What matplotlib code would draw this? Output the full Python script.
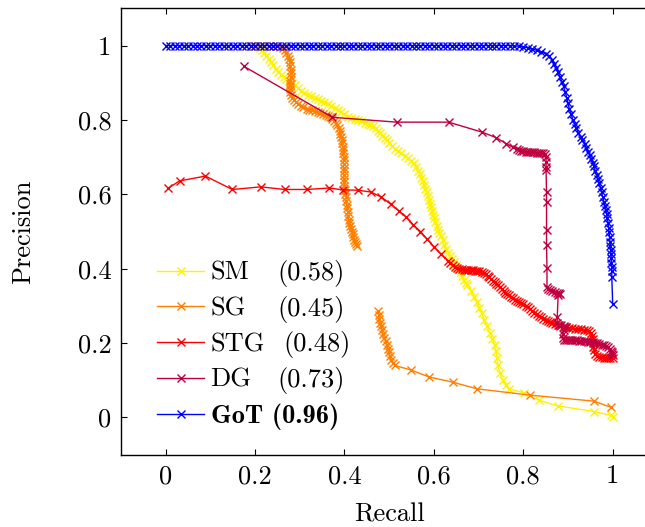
import matplotlib
matplotlib.use("Agg")
import matplotlib.pyplot as plt
import numpy as np
from matplotlib.transforms import IdentityTransform

plt.rcParams['font.family'] = 'cmr10'
plt.rcParams['axes.formatter.use_mathtext'] = True
plt.rcParams['mathtext.fontset'] = 'cm'

############   DATA   ######################################
sm_recall = [0.19, 0.198, 0.205, 0.21, 0.215, 0.22, 0.225, 0.23, 0.235, 0.24, 0.246, 0.252,
             0.258, 0.264, 0.27, 0.276, 0.282, 0.289, 0.296, 0.303, 0.31, 0.318, 0.325, 0.333,
             0.34, 0.348, 0.355, 0.363, 0.37, 0.378, 0.385, 0.392, 0.4, 0.408, 0.415, 0.423,
             0.43, 0.438, 0.445, 0.452, 0.458, 0.464, 0.47, 0.475, 0.48, 0.485, 0.49, 0.495,
             0.5, 0.506, 0.512, 0.52, 0.527, 0.535, 0.542, 0.549, 0.555, 0.56, 0.565, 0.569,
             0.572, 0.575, 0.578, 0.581, 0.584, 0.587, 0.589, 0.592, 0.594, 0.596, 0.598, 0.6,
             0.603, 0.606, 0.609, 0.612, 0.616, 0.62, 0.623, 0.627, 0.631, 0.635, 0.64, 0.645,
             0.65, 0.655, 0.66, 0.664, 0.668, 0.672, 0.675, 0.683, 0.69, 0.696, 0.702, 0.707,
             0.713, 0.719, 0.725, 0.731, 0.736, 0.739, 0.741, 0.743, 0.748, 0.754, 0.761, 0.768,
             0.802, 0.836, 0.878, 0.959, 0.996, 1.0]
sm_precision = [1.0, 1.0, 0.998, 0.993, 0.987, 0.98, 0.973, 0.965, 0.956, 0.947, 0.938, 0.93,
                0.922, 0.916, 0.91, 0.905, 0.9, 0.893, 0.886, 0.879, 0.873, 0.868, 0.863, 0.859,
                0.855, 0.851, 0.847, 0.843, 0.838, 0.833, 0.828, 0.822, 0.815, 0.809, 0.805, 0.802,
                0.8, 0.797, 0.793, 0.79, 0.787, 0.783, 0.777, 0.771, 0.765, 0.758, 0.751, 0.745,
                0.738, 0.73, 0.723, 0.716, 0.71, 0.703, 0.697, 0.69, 0.683, 0.674, 0.664, 0.655,
                0.645, 0.635, 0.625, 0.615, 0.605, 0.595, 0.585, 0.575, 0.565, 0.555, 0.545, 0.535,
                0.525, 0.515, 0.505, 0.496, 0.487, 0.476, 0.465, 0.454, 0.443, 0.434, 0.425, 0.417,
                0.41, 0.4, 0.39, 0.38, 0.37, 0.362, 0.355, 0.34, 0.325, 0.31, 0.295, 0.28,
                0.262, 0.245, 0.228, 0.212, 0.195, 0.178, 0.16, 0.14, 0.12, 0.101, 0.087, 0.077,
                0.066, 0.046, 0.031, 0.016, 0.006, 0.002]

# SG has a gap between its two parts (nan breaks the line)
sg_recall = [0.19, 0.2, 0.21, 0.22, 0.23, 0.24, 0.25, 0.256, 0.262, 0.266, 0.27, 0.273, 0.275,
             0.277, 0.279, 0.28, 0.281, 0.28, 0.279, 0.278, 0.277, 0.277, 0.278, 0.28, 0.283,
             0.287, 0.292, 0.297, 0.302, 0.308, 0.315, 0.321, 0.328, 0.334, 0.34, 0.346, 0.352,
             0.358, 0.363, 0.368, 0.373, 0.377, 0.381, 0.384, 0.387, 0.389, 0.391, 0.393, 0.394,
             0.395, 0.396, 0.397, 0.397, 0.398, 0.398, 0.398, 0.398, 0.398, 0.398, 0.399, 0.399,
             0.4, 0.401, 0.402, 0.403, 0.404, 0.405, 0.406, 0.407, 0.408, 0.409, 0.41, 0.412,
             0.414, 0.416, 0.418, 0.42, 0.422, 0.424, 0.426, 0.428,
             np.nan,
             0.476, 0.477, 0.478, 0.48, 0.482, 0.484, 0.486, 0.489, 0.492, 0.495, 0.497, 0.499,
             0.501, 0.504, 0.508, 0.512, 0.548, 0.589, 0.642, 0.697, 0.816, 0.958, 0.997]
sg_precision = [1.0, 1.0, 1.0, 1.0, 1.0, 0.999, 0.998, 0.996, 0.992, 0.987, 0.98, 0.973, 0.965,
                0.955, 0.945, 0.935, 0.925, 0.915, 0.905, 0.897, 0.89, 0.882, 0.875, 0.867, 0.86,
                0.854, 0.848, 0.843, 0.838, 0.834, 0.83, 0.828, 0.826, 0.824, 0.822, 0.819, 0.816,
                0.813, 0.81, 0.807, 0.803, 0.798, 0.792, 0.785, 0.778, 0.77, 0.762, 0.753, 0.745,
                0.737, 0.728, 0.719, 0.71, 0.701, 0.692, 0.682, 0.672, 0.662, 0.652, 0.642, 0.632,
                0.622, 0.612, 0.602, 0.592, 0.582, 0.572, 0.562, 0.552, 0.542, 0.532, 0.523, 0.515,
                0.507, 0.5, 0.492, 0.485, 0.478, 0.472, 0.467, 0.462,
                np.nan,
                0.285, 0.275, 0.265, 0.255, 0.245, 0.235, 0.225, 0.215, 0.205, 0.195, 0.185, 0.175,
                0.165, 0.155, 0.146, 0.14, 0.128, 0.109, 0.095, 0.077, 0.06, 0.044, 0.027]

stg_recall = [0.005, 0.031, 0.089, 0.149, 0.213, 0.266, 0.316, 0.366, 0.396, 0.431, 0.459, 0.482,
              0.503, 0.521, 0.537, 0.554, 0.57, 0.585, 0.6, 0.615, 0.631, 0.637, 0.642, 0.647,
              0.652, 0.657, 0.662, 0.667, 0.672, 0.677, 0.682, 0.687, 0.692, 0.697, 0.702, 0.707,
              0.712, 0.716, 0.72, 0.724, 0.728, 0.732, 0.736, 0.74, 0.744, 0.748, 0.752, 0.756,
              0.76, 0.764, 0.768, 0.772, 0.777, 0.781, 0.786, 0.79, 0.795, 0.8, 0.805, 0.81,
              0.815, 0.82, 0.825, 0.83, 0.835, 0.84, 0.845, 0.85, 0.855, 0.86, 0.865, 0.871,
              0.877, 0.883, 0.89, 0.896, 0.903, 0.91, 0.916, 0.922, 0.929, 0.935, 0.942, 0.947,
              0.952, 0.954, 0.955, 0.956, 0.957, 0.958, 0.96, 0.965, 0.97, 0.975, 0.98, 0.985,
              0.99, 0.995, 1.0]
stg_precision = [0.616, 0.636, 0.649, 0.613, 0.62, 0.613, 0.613, 0.617, 0.612, 0.611, 0.606, 0.593,
                 0.574, 0.556, 0.54, 0.518, 0.5, 0.479, 0.459, 0.44, 0.422, 0.415, 0.41, 0.405,
                 0.402, 0.4, 0.398, 0.397, 0.397, 0.396, 0.396, 0.396, 0.395, 0.394, 0.393, 0.391,
                 0.388, 0.385, 0.381, 0.377, 0.373, 0.368, 0.364, 0.36, 0.355, 0.35, 0.345, 0.34,
                 0.336, 0.332, 0.328, 0.324, 0.32, 0.316, 0.313, 0.31, 0.307, 0.304, 0.3, 0.296,
                 0.291, 0.286, 0.281, 0.277, 0.273, 0.269, 0.266, 0.263, 0.26, 0.257, 0.254, 0.251,
                 0.248, 0.246, 0.244, 0.242, 0.241, 0.24, 0.239, 0.238, 0.237, 0.236, 0.235, 0.233,
                 0.228, 0.22, 0.21, 0.2, 0.19, 0.181, 0.172, 0.165, 0.163, 0.162, 0.161, 0.16,
                 0.16, 0.16, 0.159]

dg_recall = [0.175, 0.373, 0.517, 0.633, 0.708, 0.74, 0.762, 0.776, 0.785, 0.79, 0.795, 0.8,
             0.805, 0.81, 0.815, 0.82, 0.825, 0.83, 0.835, 0.84, 0.845, 0.849, 0.851, 0.851,
             0.851, 0.851, 0.852, 0.852, 0.852, 0.852, 0.853, 0.853, 0.855, 0.86, 0.865, 0.87,
             0.875, 0.88, 0.883, 0.878, 0.876, 0.876, 0.88, 0.885, 0.89, 0.895, 0.892, 0.889,
             0.888, 0.89, 0.895, 0.9, 0.905, 0.91, 0.915, 0.92, 0.925, 0.93, 0.935, 0.94,
             0.945, 0.95, 0.955, 0.96, 0.965, 0.97, 0.975, 0.98, 0.985, 0.99, 0.993, 0.996,
             0.998, 0.999, 1.0]
dg_precision = [0.944, 0.807, 0.794, 0.794, 0.767, 0.752, 0.736, 0.727, 0.721, 0.719, 0.717, 0.716,
                0.715, 0.714, 0.714, 0.713, 0.713, 0.712, 0.712, 0.711, 0.71, 0.709, 0.7, 0.688,
                0.674, 0.665, 0.607, 0.578, 0.504, 0.463, 0.402, 0.352, 0.345, 0.342, 0.34, 0.338,
                0.336, 0.334, 0.332, 0.328, 0.271, 0.254, 0.25, 0.248, 0.245, 0.242, 0.236, 0.225,
                0.215, 0.209, 0.208, 0.208, 0.208, 0.208, 0.207, 0.207, 0.206, 0.206, 0.205, 0.205,
                0.204, 0.203, 0.202, 0.201, 0.2, 0.198, 0.196, 0.194, 0.192, 0.189, 0.185, 0.18,
                0.176, 0.171, 0.167]

got_recall = [0.0, 0.01, 0.02, 0.03, 0.04, 0.05, 0.06, 0.07, 0.08, 0.09, 0.1, 0.11, 0.12, 0.13,
              0.14, 0.15, 0.16, 0.17, 0.18, 0.19, 0.2, 0.21, 0.22, 0.23, 0.24, 0.25, 0.26, 0.27,
              0.28, 0.29, 0.3, 0.31, 0.32, 0.33, 0.34, 0.35, 0.36, 0.37, 0.38, 0.39, 0.4, 0.41,
              0.42, 0.43, 0.44, 0.45, 0.46, 0.47, 0.48, 0.49, 0.5, 0.51, 0.52, 0.53, 0.54, 0.55,
              0.56, 0.57, 0.58, 0.59, 0.6, 0.61, 0.62, 0.63, 0.64, 0.65, 0.66, 0.67, 0.68, 0.69,
              0.7, 0.71, 0.72, 0.73, 0.74, 0.75, 0.76, 0.77, 0.78, 0.79, 0.8, 0.81, 0.82, 0.83,
              0.84, 0.85, 0.858, 0.864, 0.869, 0.874, 0.878, 0.882, 0.886, 0.89, 0.894, 0.897,
              0.9, 0.903, 0.907, 0.911, 0.915, 0.919, 0.923, 0.928, 0.932, 0.937, 0.941, 0.945,
              0.949, 0.952, 0.955, 0.958, 0.961, 0.964, 0.967, 0.97, 0.973, 0.975, 0.978, 0.98,
              0.983, 0.985, 0.987, 0.988, 0.99, 0.991, 0.992, 0.993, 0.994, 0.995, 0.996, 0.996,
              0.997, 0.997, 0.998, 0.998, 0.998, 1.0]
got_precision = [1.0, 1.0, 1.0, 1.0, 1.0, 1.0, 1.0, 1.0, 1.0, 1.0, 1.0, 1.0, 1.0, 1.0,
                 1.0, 1.0, 1.0, 1.0, 1.0, 1.0, 1.0, 1.0, 1.0, 1.0, 1.0, 1.0, 1.0, 1.0,
                 1.0, 1.0, 1.0, 1.0, 1.0, 1.0, 1.0, 1.0, 1.0, 1.0, 1.0, 1.0, 1.0, 1.0,
                 1.0, 1.0, 1.0, 1.0, 1.0, 1.0, 1.0, 1.0, 1.0, 1.0, 1.0, 1.0, 1.0, 1.0,
                 1.0, 1.0, 1.0, 1.0, 1.0, 1.0, 1.0, 1.0, 1.0, 1.0, 1.0, 1.0, 1.0, 1.0,
                 1.0, 1.0, 1.0, 1.0, 1.0, 1.0, 1.0, 1.0, 0.999, 0.998, 0.996, 0.994, 0.991, 0.987,
                 0.983, 0.978, 0.972, 0.962, 0.95, 0.94, 0.928, 0.916, 0.903, 0.89, 0.875, 0.86,
                 0.845, 0.83, 0.815, 0.8, 0.788, 0.777, 0.766, 0.755, 0.745, 0.735, 0.725, 0.715,
                 0.705, 0.695, 0.685, 0.675, 0.663, 0.652, 0.641, 0.63, 0.617, 0.605, 0.592, 0.58,
                 0.569, 0.558, 0.546, 0.535, 0.522, 0.51, 0.498, 0.486, 0.473, 0.46, 0.45, 0.44,
                 0.428, 0.415, 0.405, 0.395, 0.378, 0.305]

names = ["SM", "SG", "STG", "DG"]
scores = ["(0.58)", "(0.45)", "(0.48)", "(0.73)"]
got_label = "GoT (0.96)"

#--- plotting ---
fig = plt.figure(figsize=(6.45, 5.27), dpi=100)
ax = fig.add_axes([0.1876, 0.1372, 0.8316, 0.847])

style = dict(marker='x', markersize=5.8, markeredgewidth=1.0, linewidth=1.0)
ax.plot(sm_recall, sm_precision, color=(1.0, 0.95, 0.0), label=names[0], **style)
ax.plot(sg_recall, sg_precision, color=(1.0, 0.5, 0.0), label=names[1], **style)
ax.plot(stg_recall, stg_precision, color=(1.0, 0.0, 0.0), label=names[2], **style)
ax.plot(dg_recall, dg_precision, color=(0.75, 0.0, 0.25), label=names[3], **style)
ax.plot(got_recall, got_precision, color=(0.0, 0.0, 1.0), label=got_label, **style)

ax.set_xlim(-0.1, 1.1)
ax.set_ylim(-0.1, 1.1)
ticks = [0, 0.2, 0.4, 0.6, 0.8, 1]
ax.set_xticks(ticks)
ax.set_yticks(ticks)
ax.set_xticklabels([f"{t:g}" for t in ticks])
ax.set_yticklabels([f"{t:g}" for t in ticks])
ax.tick_params(direction='in', length=4.5, width=0.8, top=True, right=True,
               labelsize=19, pad=7)
for s in ax.spines.values():
    s.set_linewidth(1.0)

ax.set_xlabel("Recall", fontsize=19)
ax.set_ylabel("Precision", fontsize=19)
ax.xaxis.set_label_coords(0.5, -0.108)
ax.yaxis.set_label_coords(-0.160, 0.5)

leg = ax.legend(loc='lower left', bbox_to_anchor=(0.068, 0.055), frameon=False,
                fontsize=19, handlelength=1.76, handletextpad=0.25, labelspacing=0.45,
                borderpad=0, borderaxespad=0, numpoints=1)
leg.get_texts()[4].set_fontfamily('cmb10')

# score column next to the method names
fig.canvas.draw()
score_x = [277, 277, 283, 277]
for t, sc, xp in zip(leg.get_texts()[:4], scores, score_x):
    x0, y0 = t.get_transform().transform(t.get_position())
    fig.text(xp, y0, sc, fontsize=19, va='baseline', ha='left',
             transform=IdentityTransform())

fig.savefig("out.png", dpi=100)
